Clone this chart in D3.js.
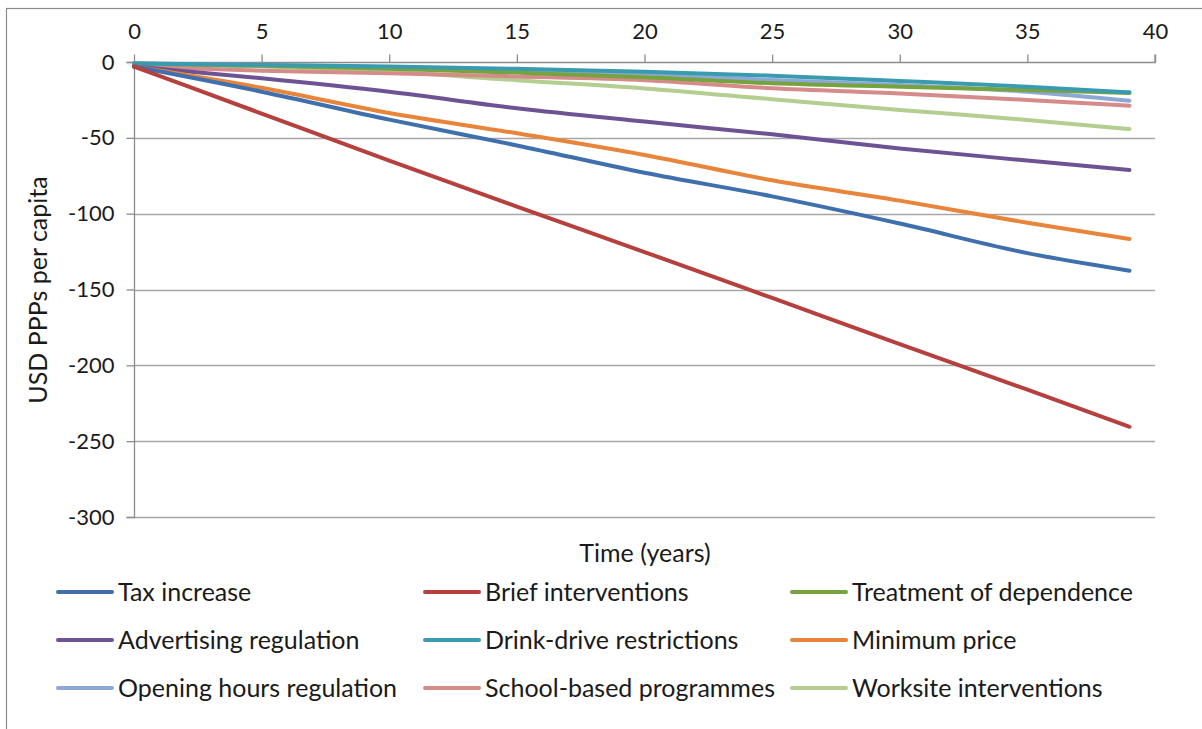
<!DOCTYPE html>
<html>
<head>
<meta charset="utf-8">
<script src="https://cdn.jsdelivr.net/npm/d3@7"></script>
<style>
  html, body { margin: 0; padding: 0; background: #fff; }
  svg { display: block; }
  text { font-family: Lato, "Open Sans", "Liberation Sans", sans-serif; fill: #1a1a1a; }
</style>
</head>
<body>
<svg id="chart" width="1202" height="729"></svg>
<script>
// ---- data ----
const years = [0, 5, 10, 15, 20, 25, 30, 35, 39];
const seriesNames = [
  "Tax increase", "Brief interventions", "Treatment of dependence",
  "Advertising regulation", "Drink-drive restrictions", "Minimum price",
  "Opening hours regulation", "School-based programmes", "Worksite interventions"
];
const taxIncrease        = [-3, -19.6, -38, -55, -73, -88.6, -106.5, -126, -137.6];
const briefInterventions = [-3, -34, -65, -95.4, -125.3, -155.6, -186, -216, -240.5];
const treatmentDep       = [-1, -2.5, -4.5, -7, -10, -14, -16.3, -18.5, -20.4];
const advertisingReg     = [-3, -10.7, -19.6, -30.5, -39.3, -47.7, -57, -65, -71.2];
const drinkDrive         = [-1, -2, -3, -4.5, -6.4, -9, -12.5, -16.3, -20];
const minimumPrice       = [-3, -17, -33.6, -47, -61.3, -78, -91.4, -106, -116.7];
const openingHours       = [-1, -2, -3.5, -5.5, -8, -11.9, -15.2, -19.6, -25.5];
const schoolBased        = [-3, -5.8, -7.5, -9.5, -12, -17.3, -20.7, -25, -28.8];
const worksite           = [-1, -3, -6.5, -12, -17.4, -24.5, -31.6, -38.2, -44.2];
const seriesValues = [taxIncrease, briefInterventions, treatmentDep, advertisingReg,
  drinkDrive, minimumPrice, openingHours, schoolBased, worksite];
const seriesColors = ["#3F6FAD", "#B5403D", "#77A33F", "#6E5394", "#3A9BB0",
  "#E8853A", "#8EA8D5", "#D58B8A", "#B3CE8E"];
const xTicks = [0, 5, 10, 15, 20, 25, 30, 35, 40];
const yTicks = [0, -50, -100, -150, -200, -250, -300];

// ---- layout ----
const svg = d3.select("#chart");
const pLeft = 134, pRight = 1155, pTop = 62, pBottom = 517;
const x = d3.scaleLinear().domain([0, 40]).range([pLeft, pRight]);
const y = d3.scaleLinear().domain([0, -300]).range([pTop, pBottom]);
const axisColor = "#8c8c8c";
const tickFont = 22, labelFont = 25;

// outer border
svg.append("rect").attr("x", 6.5).attr("y", 8.5).attr("width", 1210).attr("height", 730)
  .attr("fill", "none").attr("stroke", "#8a8a8a").attr("stroke-width", 1.2);

// gridlines
svg.append("g").selectAll("line").data(yTicks.filter(d => d !== 0)).join("line")
  .attr("x1", pLeft).attr("x2", pRight)
  .attr("y1", d => Math.round(y(d)) + 0.5).attr("y2", d => Math.round(y(d)) + 0.5)
  .attr("stroke", "#a6a6a6").attr("stroke-width", 1.3);

// y axis
const yAxis = d3.axisLeft(y).tickValues(yTicks).tickSize(8).tickPadding(12).tickFormat(d3.format("d"));
const gy = svg.append("g").attr("transform", `translate(${pLeft + 0.5},0)`).call(yAxis);
gy.selectAll("path, line").attr("stroke", axisColor).attr("stroke-width", 1.3);
gy.select(".domain").attr("d", `M-8,${pTop + 0.5}H0V${pBottom + 0.5}H-8`);
gy.selectAll("text").attr("font-size", tickFont).attr("fill", "#1a1a1a").style("font-family", "Lato, 'Open Sans', sans-serif")
  .text(d => d === 0 ? "0" : "-" + Math.abs(d));

// x axis (at top)
const xAxis = d3.axisTop(x).tickValues(xTicks).tickSize(8).tickPadding(16).tickFormat(d3.format("d"));
const gx = svg.append("g").attr("transform", `translate(0,${pTop + 0.5})`).call(xAxis);
gx.selectAll("path, line").attr("stroke", axisColor).attr("stroke-width", 1.3);
gx.select(".domain").attr("d", `M${pLeft},0H${pRight}V-8`);
gx.selectAll("text").attr("font-size", tickFont).attr("fill", "#1a1a1a").style("font-family", "Lato, 'Open Sans', sans-serif");

// lines
const line = d3.line().x((d, i) => x(years[i])).y(d => y(d)).curve(d3.curveMonotoneX);
const order = [8, 7, 6, 2, 4, 3, 5, 0, 1];
svg.append("g").selectAll("path").data(order).join("path")
  .attr("d", i => line(seriesValues[i]))
  .attr("fill", "none").attr("stroke", i => seriesColors[i])
  .attr("stroke-width", 4).attr("stroke-linecap", "round").attr("stroke-linejoin", "round");

// axis titles
svg.append("text").attr("x", 645).attr("y", 562).attr("text-anchor", "middle")
  .attr("font-size", labelFont).text("Time (years)");
svg.append("text").attr("transform", "translate(47,290) rotate(-90)").attr("text-anchor", "middle")
  .attr("font-size", labelFont).text("USD PPPs per capita");

// legend
const colX = [58, 425, 792];
const rowY = [592, 640, 688];
const leg = svg.append("g").selectAll("g").data(seriesNames).join("g")
  .attr("transform", (d, i) => `translate(${colX[i % 3]},${rowY[Math.floor(i / 3)]})`);
leg.append("line").attr("x1", 0).attr("x2", 54).attr("y1", 0).attr("y2", 0)
  .attr("stroke", (d, i) => seriesColors[i]).attr("stroke-width", 4).attr("stroke-linecap", "round");
leg.append("text").attr("x", 60).attr("y", 0).attr("dy", "0.35em").attr("font-size", labelFont).text(d => d);
</script>
</body>
</html>
